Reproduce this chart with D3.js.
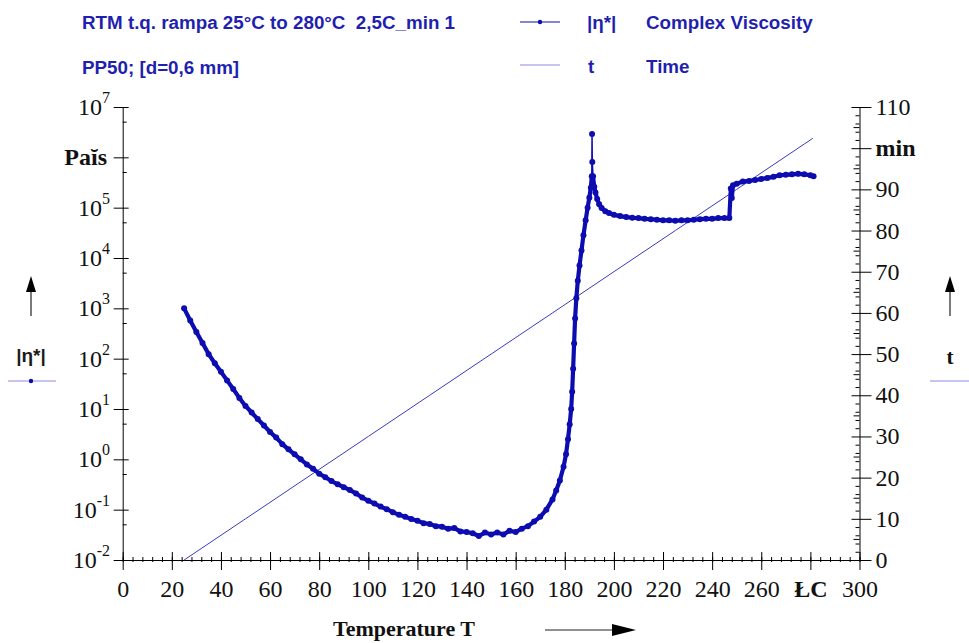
<!DOCTYPE html>
<html>
<head>
<meta charset="utf-8">
<script src="https://cdn.jsdelivr.net/npm/d3@7"></script>
<style>
  body { margin: 0; background: #fff; }
  svg { display: block; }
  .hdr { font-family: "Liberation Sans", Arial, sans-serif; font-weight: bold; font-size: 18.8px; fill: #1f1fb0; white-space: pre; }
  .tick-lbl { font-family: "Liberation Serif", "Times New Roman", serif; font-size: 24px; fill: #111; }
  .unit { font-family: "Liberation Serif", "Times New Roman", serif; font-size: 24px; font-weight: bold; fill: #111; }
</style>
</head>
<body>
<div id="chart"></div>
<script>
// temperature (°C) and complex viscosity |eta*| (Pa s)
const temps = [25, 27.5, 30, 32.5, 35, 37.5, 40, 42.5, 45, 47.5, 50, 52.5, 55, 57.5, 60, 62.5, 65, 67.5, 70, 72.5,
  75, 77.5, 80, 82.5, 85, 87.5, 90, 92.5, 95, 97.5, 100, 102.5, 105, 107.5, 110, 112.5, 115, 117.5, 120, 122.5,
  125, 127.5, 130, 132.5, 135, 137.5, 140, 142.5, 145, 147.5, 150, 152.5, 155, 157.5, 160, 162.5, 165, 167.5, 170, 172.5,
  175, 176.5, 178, 179.5, 180.5, 181.3, 182, 182.6, 183, 183.4, 183.8, 184.2, 184.7, 185.3, 186, 186.8, 187.6, 188.5, 189.3, 190,
  190.6, 191, 191.1, 191.2, 191.5, 192, 192.5, 193.2, 194, 195, 196.5, 198, 200, 202.5, 205, 207.5, 210, 212.5,
  215, 217.5, 220, 222.5, 225, 227.5, 230, 232.5, 235, 237.5, 240, 242.5, 245, 247, 247.6, 248, 248.5, 250,
  252.5, 255, 257.5, 260, 262.5, 265, 267.5, 270, 272.5, 275, 277.5, 280, 281.3]
const viscosity = [1000, 575, 339, 204, 123, 81, 55, 37, 25, 16.6, 11.5, 8.5, 6.3, 4.7, 3.5, 2.7, 2.0, 1.58, 1.26, 1.0,
  0.79, 0.65, 0.52, 0.44, 0.37, 0.32, 0.28, 0.245, 0.21, 0.174, 0.151, 0.132, 0.115, 0.102, 0.089, 0.079, 0.072, 0.065, 0.060, 0.054,
  0.052, 0.047, 0.046, 0.042, 0.043, 0.037, 0.036, 0.034, 0.030, 0.035, 0.032, 0.035, 0.032, 0.038, 0.036, 0.042, 0.047, 0.058, 0.072, 0.100,
  0.16, 0.24, 0.38, 0.71, 1.26, 2.5, 5.0, 10, 22, 63, 200, 630, 1580, 3550, 7100, 14100, 28200, 56000, 1.0e5, 1.58e5,
  2.5e5, 4.2e5, 2.9e6, 8.1e5, 4.2e5, 2.6e5, 2.0e5, 1.48e5, 1.17e5, 9.8e4, 8.5e4, 7.8e4, 7.2e4, 6.8e4, 6.5e4, 6.3e4, 6.2e4, 6.0e4,
  5.9e4, 5.75e4, 5.6e4, 5.6e4, 5.5e4, 5.6e4, 5.6e4, 5.75e4, 5.9e4, 6.0e4, 6.0e4, 6.2e4, 6.2e4, 6.2e4, 2.4e5, 1.55e5, 2.8e5, 3.0e5,
  3.3e5, 3.4e5, 3.55e5, 3.7e5, 3.9e5, 4.1e5, 4.4e5, 4.5e5, 4.6e5, 4.7e5, 4.6e5, 4.4e5, 4.2e5]

// time (min) against temperature
const timeTemps = [25, 50, 75, 100, 125, 150, 175, 200, 225, 250, 275, 281]
const timeMin = [0, 10, 20, 30, 40, 50, 60, 70, 80, 90, 100, 102.4]

const xTickVals = [0, 20, 40, 60, 80, 100, 120, 140, 160, 180, 200, 220, 240, 260, 280, 300]
const xTickText = ["0", "20", "40", "60", "80", "100", "120", "140", "160", "180", "200", "220", "240", "260", "ŁC", "300"]
const yExp = [7, 6, 5, 4, 3, 2, 1, 0, -1, -2]
const tTickVals = [0, 10, 20, 30, 40, 50, 60, 70, 80, 90, 100, 110]
const tTickText = ["0", "10", "20", "30", "40", "50", "60", "70", "80", "90", "min", "110"]

const W = 969, H = 643
const m = { top: 107, right: 109.5, bottom: 83, left: 122.7 }
const blue = "#0c0cb0"

const svg = d3.select("#chart").append("svg").attr("width", W).attr("height", H)

const x = d3.scaleLinear().domain([0, 300]).range([m.left, W - m.right])
const y = d3.scaleLog().domain([1e-2, 1e7]).range([H - m.bottom, m.top])
const yt = d3.scaleLinear().domain([0, 110]).range([H - m.bottom, m.top])
const x0 = H - m.bottom

// ---- bottom axis
const gx = svg.append("g").attr("transform", "translate(0," + x0 + ")")
  .call(d3.axisBottom(x).tickValues(d3.range(0, 301, 4)).tickSize(2).tickSizeOuter(0).tickFormat(""))
gx.selectAll(".tick line").attr("y1", -3)
const gx2 = svg.append("g").attr("transform", "translate(0," + x0 + ")")
  .call(d3.axisBottom(x).tickValues(xTickVals).tickSize(10).tickSizeOuter(0).tickFormat((d, i) => xTickText[i]))
gx2.select(".domain").remove()
gx2.selectAll(".tick line").attr("y1", -8)
gx2.selectAll(".tick text").attr("class", d => d === 280 ? "unit" : "tick-lbl")
  .attr("y", 20).attr("dy", "0.71em").style("font-family", null).style("font-size", null)

// ---- left axis (log)
const gy = svg.append("g").attr("transform", "translate(" + m.left + ",0)")
  .call(d3.axisLeft(y).tickValues(yExp.map(e => Math.pow(10, e))).tickSize(9).tickSizeOuter(0).tickFormat(""))
gy.selectAll(".tick line").attr("x1", 6)
svg.append("g").selectAll("line").data(yExp.slice(1).map(e => 5 * Math.pow(10, e)))
  .join("line")
  .attr("x1", m.left).attr("x2", m.left + 4)
  .attr("y1", d => y(d)).attr("y2", d => y(d))
  .attr("stroke", "#000")

yExp.forEach(e => {
  const t = svg.append("text").attr("x", 110).attr("y", y(Math.pow(10, e)) + 8).attr("text-anchor", "end")
  if (e === 6) {
    t.attr("class", "unit").attr("x", 107).text("Paĭs")
  } else {
    t.attr("class", "tick-lbl").text("10")
    t.append("tspan").attr("dy", -12).style("font-size", "16px").text(e)
  }
})

// ---- right axis (time)
const gt = svg.append("g").attr("transform", "translate(" + (W - m.right) + ",0)")
  .call(d3.axisRight(yt).tickValues(d3.range(0, 111, 2)).tickSize(0).tickSizeOuter(0).tickFormat(""))
gt.selectAll(".tick line").attr("x1", d => d % 10 === 0 ? -8 : -4)
  .attr("x2", d => d % 10 === 0 ? 12 : 0)
svg.append("g").selectAll("line").data(d3.range(5, 110, 10)).join("line")
  .attr("x1", W - m.right - 6).attr("x2", W - m.right)
  .attr("y1", d => yt(d)).attr("y2", d => yt(d)).attr("stroke", "#000")
svg.append("g").selectAll("text").data(tTickVals).join("text")
  .attr("class", d => d === 100 ? "unit" : "tick-lbl")
  .attr("x", W - m.right + 16).attr("y", d => yt(d) + 8)
  .text((d, i) => tTickText[i])

svg.selectAll(".domain").attr("stroke", "#000")

// ---- time line
svg.append("path")
  .datum(timeTemps.map((d, i) => [d, timeMin[i]]))
  .attr("fill", "none").attr("stroke", "#3a3ac4").attr("stroke-width", 1)
  .attr("d", d3.line().x(d => x(d[0])).y(d => y === null ? 0 : yt(d[1])))

// ---- viscosity curve: thin line for all points, thick band except the spike
const pts = temps.map((d, i) => [d, viscosity[i]])
const spike = d => d[0] > 191.05 && d[0] < 191.3
svg.append("path")
  .datum(pts)
  .attr("fill", "none").attr("stroke", blue).attr("stroke-width", 1.5)
  .attr("d", d3.line().x(d => x(d[0])).y(d => y(d[1])))
svg.append("path")
  .datum(pts)
  .attr("fill", "none").attr("stroke", blue).attr("stroke-width", 4.2).attr("stroke-linejoin", "round")
  .attr("d", d3.line().defined(d => !spike(d)).x(d => x(d[0])).y(d => y(d[1])))
svg.append("g").selectAll("circle").data(pts).join("circle")
  .attr("cx", d => x(d[0])).attr("cy", d => y(d[1])).attr("r", 3).attr("fill", blue)

// ---- header / legend
svg.append("text").attr("class", "hdr").attr("x", 82).attr("y", 29).text("RTM t.q. rampa 25°C to 280°C\u00a0 2,5C_min 1")
svg.append("text").attr("class", "hdr").attr("x", 82).attr("y", 74).text("PP50; [d=0,6 mm]")
svg.append("line").attr("x1", 520).attr("x2", 560).attr("y1", 22).attr("y2", 22).attr("stroke", blue).attr("stroke-width", 1.2)
svg.append("circle").attr("cx", 540).attr("cy", 22).attr("r", 2.2).attr("fill", blue)
svg.append("text").attr("class", "hdr").attr("x", 587).attr("y", 29).text("|η*|")
svg.append("text").attr("class", "hdr").attr("x", 646).attr("y", 29).text("Complex Viscosity")
svg.append("line").attr("x1", 520).attr("x2", 560).attr("y1", 65).attr("y2", 65).attr("stroke", "#8c8ce0").attr("stroke-width", 1.2)
svg.append("text").attr("class", "hdr").attr("x", 588).attr("y", 73).text("t")
svg.append("text").attr("class", "hdr").attr("x", 646).attr("y", 73).text("Time")

// ---- side labels with arrows
const arrow = (x1, y1, x2, y2) => {
  svg.append("line").attr("x1", x1).attr("y1", y1).attr("x2", x2).attr("y2", y2).attr("stroke", "#222").attr("stroke-width", 1.2)
}
arrow(31, 316, 31, 290)
svg.append("path").attr("d", "M26,292 L31,276 L36,292 Z").attr("fill", "#000")
svg.append("text").attr("x", 31).attr("y", 362).attr("text-anchor", "middle")
  .style("font-family", "Liberation Sans, Arial, sans-serif").style("font-size", "19px").style("font-weight", "bold")
  .attr("fill", "#1a1a1a").text("|η*|")
svg.append("line").attr("x1", 8).attr("x2", 56).attr("y1", 381).attr("y2", 381).attr("stroke", "#8c8ce0").attr("stroke-width", 1.2)
svg.append("circle").attr("cx", 31).attr("cy", 381).attr("r", 2.2).attr("fill", blue)

arrow(950, 316, 950, 290)
svg.append("path").attr("d", "M945,292 L950,276 L955,292 Z").attr("fill", "#000")
svg.append("text").attr("x", 950).attr("y", 364).attr("text-anchor", "middle").attr("class", "unit").style("font-size", "21px").text("t")
svg.append("line").attr("x1", 930).attr("x2", 969).attr("y1", 381).attr("y2", 381).attr("stroke", "#8c8ce0").attr("stroke-width", 1.2)

// ---- x label
svg.append("text").attr("class", "unit").attr("x", 404).attr("y", 636).attr("text-anchor", "middle")
  .style("font-size", "22px").text("Temperature T")
arrow(545, 630, 615, 630)
svg.append("path").attr("d", "M612,624 L636,630 L612,636 Z").attr("fill", "#000")
</script>
</body>
</html>
